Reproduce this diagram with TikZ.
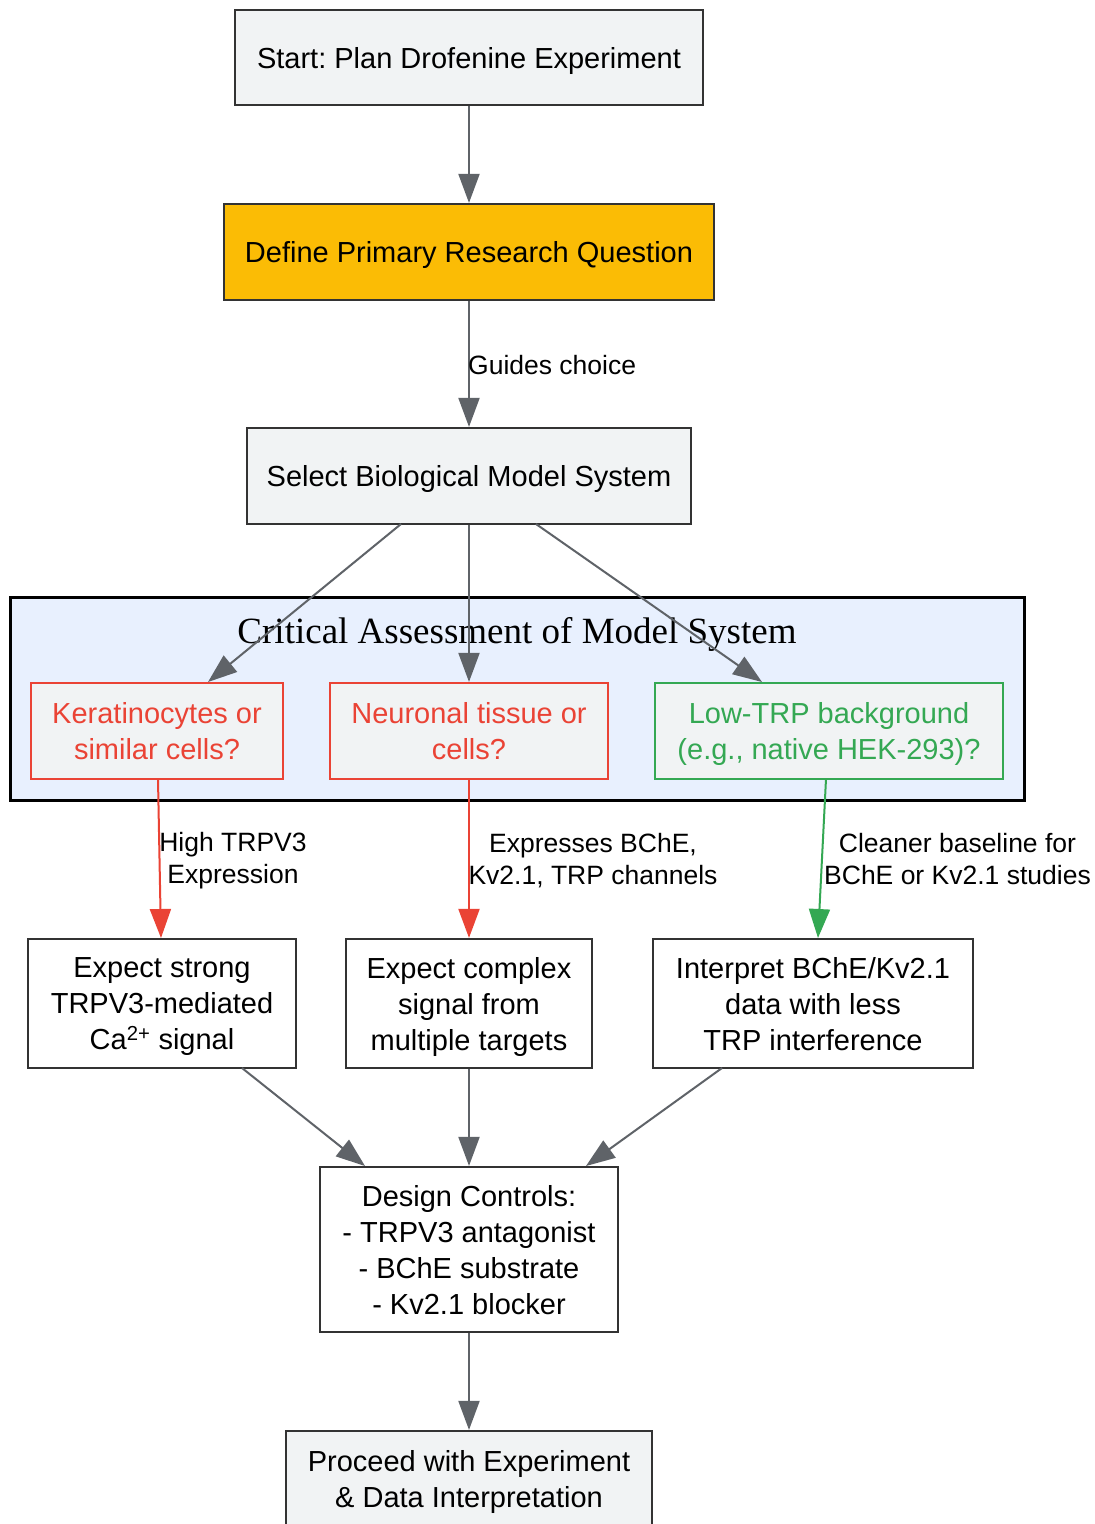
\documentclass[tikz,border=0pt]{standalone}
\usepackage{fontspec}
\setmainfont{Liberation Sans}
\newfontfamily\titlefont{Liberation Serif}
\usetikzlibrary{arrows.meta}
\frenchspacing
\definecolor{nodefill}{HTML}{F1F3F4}
\definecolor{ydark}{HTML}{FBBC05}
\definecolor{edgegray}{HTML}{5F6368}
\definecolor{bordergray}{HTML}{333333}
\definecolor{gred}{HTML}{EA4335}
\definecolor{ggreen}{HTML}{34A853}
\definecolor{clusterfill}{HTML}{E8F0FE}
\tikzset{
  box/.style={draw=bordergray, line width=2.2pt, inner sep=0pt},
  gbox/.style={box, fill=nodefill},
  wbox/.style={box, fill=white},
  rbox/.style={box, fill=nodefill, draw=gred},
  grbox/.style={box, fill=nodefill, draw=ggreen},
  txt/.style={inner sep=0pt, align=center, yshift=-3pt, font=\fontsize{29}{36}\selectfont},
  conn/.style={draw=edgegray, line width=2pt, -{Triangle[length=29pt,width=21pt]}},
  rconn/.style={conn, draw=gred, fill=gred},
  gconn/.style={conn, draw=ggreen, fill=ggreen},
  elabel/.style={inner sep=0pt, align=center, yshift=-3pt, font=\fontsize{26.5}{32}\selectfont},
}
\begin{document}
\begin{tikzpicture}[x=1pt,y=-1pt]
\useasboundingbox[fill=white] (0,0) rectangle (1095,1524);
% cluster
\node[draw=black, line width=3pt, fill=clusterfill, minimum width=1014pt, minimum height=203pt, inner sep=0pt] (cluster) at (517,698.5) {};
\node[inner sep=0pt, yshift=-3pt, font=\titlefont\fontsize{37}{40}\selectfont] (ctitle) at (517,631) {Critical Assessment of Model System};
% boxes
\node[gbox, minimum width=468pt, minimum height=95pt] (start) at (469,57.5) {};
\node[box, fill=ydark, minimum width=490pt, minimum height=96pt] (define) at (469,252) {};
\node[gbox, minimum width=444pt, minimum height=96pt] (select) at (469,476) {};
\node[rbox, minimum width=252pt, minimum height=96pt] (kera) at (157,731) {};
\node[rbox, minimum width=278pt, minimum height=96pt] (neur) at (469,731) {};
\node[grbox, minimum width=348pt, minimum height=96pt] (lowtrp) at (829,731) {};
\node[wbox, minimum width=268pt, minimum height=129pt] (exp1) at (162,1003.5) {};
\node[wbox, minimum width=246pt, minimum height=129pt] (exp2) at (469,1003.5) {};
\node[wbox, minimum width=320pt, minimum height=129pt] (interp) at (813,1003.5) {};
\node[wbox, minimum width=298pt, minimum height=165pt] (design) at (469,1249.5) {};
\node[gbox, minimum width=366pt, minimum height=96pt] (proceed) at (469,1479) {};
% texts
\node[txt] (startT) at (start) {Start: Plan Drofenine Experiment};
\node[txt] (defineT) at (define) {Define Primary Research Question};
\node[txt] (selectT) at (select) {Select Biological Model System};
\node[txt, yshift=3pt, text=gred] (keraT) at (kera) {Keratinocytes or\\similar cells?};
\node[txt, yshift=3pt, text=gred] (neurT) at (neur) {Neuronal tissue or\\cells?};
\node[txt, text=ggreen] (lowtrpT) at (lowtrp) {Low-TRP background\\(e.g., native HEK-293)?};
\node[txt] (exp1T) at (exp1) {Expect strong\\TRPV3-mediated\\Ca\textsuperscript{2+} signal};
\node[txt] (exp2T) at (exp2) {Expect complex\\signal from\\multiple targets};
\node[txt, yshift=2pt] (interpT) at (interp) {Interpret BChE/Kv2.1\\data with less\\TRP interference};
\node[txt, yshift=2pt] (designT) at (design) {Design Controls:\\- TRPV3 antagonist\\- BChE substrate\\- Kv2.1 blocker};
\node[txt] (proceedT) at (proceed) {Proceed with Experiment\\\& Data Interpretation};
% connector end points
\coordinate (s1) at (401,524);
\coordinate (s3) at (536,524);
\coordinate (k1) at (208,682);
\coordinate (l1) at (762,682);
\coordinate (kb) at (158,779);
\coordinate (e1t) at (161,938);
\coordinate (lb) at (826,779);
\coordinate (it) at (818,938);
\coordinate (e1b) at (242,1068);
\coordinate (d1) at (365,1166);
\coordinate (ib) at (722,1068);
\coordinate (d3) at (586,1166);
% edges
\draw[conn] (start) -- (define);
\draw[conn] (define) -- (select);
\node[elabel, anchor=west, yshift=3pt] (lg) at (468,365) {Guides choice};
\draw[conn] (s1) -- (k1);
\draw[conn] (select) -- (neur);
\draw[conn] (s3) -- (l1);
\draw[rconn] (kb) -- (e1t);
\draw[rconn] (neur) -- (exp2);
\draw[gconn] (lb) -- (it);
\node[elabel, yshift=1pt] (l1lab) at (233,859) {High TRPV3\\Expression};
\node[elabel, yshift=1pt] (l2lab) at (593,859) {Expresses BChE,\\Kv2.1, TRP channels};
\node[elabel, yshift=3pt] (l3lab) at (957.5,859) {Cleaner baseline for\\BChE or Kv2.1 studies};
\draw[conn] (e1b) -- (d1);
\draw[conn] (exp2) -- (design);
\draw[conn] (ib) -- (d3);
\draw[conn] (design) -- (proceed);
\end{tikzpicture}
\end{document}
